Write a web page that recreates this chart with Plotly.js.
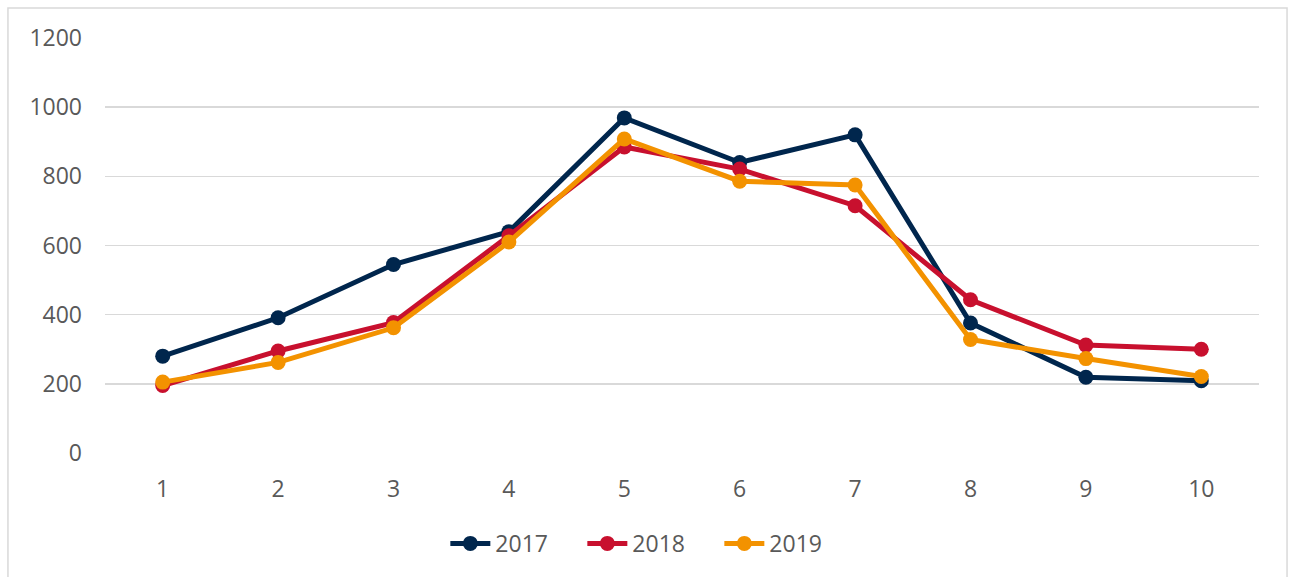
<!DOCTYPE html>
<html>
<head>
<meta charset="utf-8">
<script src="https://cdn.plot.ly/plotly-3.0.1.min.js"></script>
<style>html,body{margin:0;padding:0;background:#fff;}#chart{width:1289px;height:577px;}</style>
</head>
<body>
<div id="chart"></div>
<script>
const categories = [1, 2, 3, 4, 5, 6, 7, 8, 9, 10];
const seriesNames = ['2017', '2018', '2019'];
const values2017 = [280, 391, 545, 640, 969, 840, 920, 376, 219, 209];
const values2018 = [195, 295, 377, 628, 885, 821, 715, 443, 312, 300];
const values2019 = [205, 262, 362, 610, 908, 786, 775, 328, 273, 221];
const yTicks = [0, 200, 400, 600, 800, 1000, 1200];

const colors = ['#00264D', '#C8102E', '#F39200'];
const allValues = [values2017, values2018, values2019];

const traces = allValues.map((vals, i) => ({
  x: categories,
  y: vals,
  name: seriesNames[i],
  type: 'scatter',
  mode: 'lines+markers',
  line: {color: colors[i], width: 5},
  marker: {color: colors[i], size: 15}
}));

const gray = '#595959';
const layout = {
  width: 1289,
  height: 577,
  margin: {l: 105, r: 30, t: 38, b: 123.5},
  paper_bgcolor: '#ffffff',
  plot_bgcolor: '#ffffff',
  font: {family: '"Open Sans", "Noto Sans", sans-serif', size: 23, color: gray},
  showlegend: true,
  legend: {
    orientation: 'h',
    x: 0.473, xanchor: 'center',
    y: -0.218, yanchor: 'middle',
    font: {size: 23, color: gray},
    itemclick: false,
    itemwidth: 40,
    entrywidth: 82
  },
  xaxis: {
    range: [0.5, 10.5],
    tickvals: categories,
    ticktext: categories.map(String),
    showgrid: false,
    zeroline: false,
    showline: false,
    ticks: '',
    ticklabelstandoff: 20,
    fixedrange: true
  },
  yaxis: {
    range: [0, 1200],
    tickvals: yTicks,
    ticktext: yTicks.map(String),
    showgrid: true,
    gridcolor: '#d9d9d9',
    gridwidth: 1.5,
    zeroline: false,
    showline: false,
    ticks: '',
    ticklabelstandoff: 22,
    fixedrange: true
  },
  shapes: [{
    type: 'rect', xref: 'paper', yref: 'paper',
    x0: -0.0841, x1: 1.0243, y0: -0.35, y1: 1.0722,
    line: {color: '#d9d9d9', width: 1.5},
    fillcolor: 'rgba(0,0,0,0)',
    layer: 'below'
  }]
};

Plotly.newPlot('chart', traces, layout, {displayModeBar: false, staticPlot: true});
</script>
</body>
</html>
